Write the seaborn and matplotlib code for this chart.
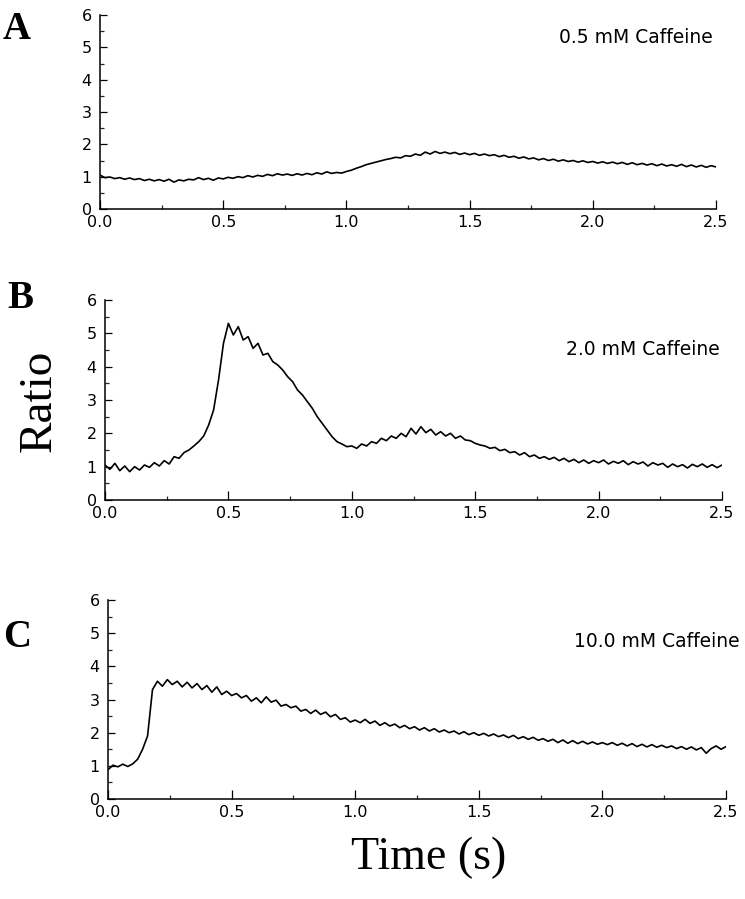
import numpy as np
import seaborn as sns
import matplotlib
matplotlib.use("Agg")
from matplotlib import pyplot as plt
from matplotlib.ticker import MultipleLocator, FormatStrFormatter

# sample times (s), one reading every 20 ms
time_s = np.linspace(0.0, 2.5, 126)

# fluorescence ratio traces
ratio_05mM = [
    1.05, 0.97, 0.99, 0.94, 0.97, 0.92, 0.96, 0.91, 0.94, 0.88,
    0.92, 0.87, 0.91, 0.86, 0.92, 0.83, 0.90, 0.87, 0.92, 0.90,
    0.97, 0.91, 0.95, 0.89, 0.96, 0.93, 0.98, 0.95, 1.00, 0.97,
    1.03, 0.99, 1.04, 1.01, 1.07, 1.03, 1.09, 1.05, 1.08, 1.04,
    1.09, 1.05, 1.10, 1.06, 1.12, 1.08, 1.15, 1.10, 1.13, 1.11,
    1.16, 1.20, 1.26, 1.31, 1.37, 1.41, 1.45, 1.49, 1.53, 1.56,
    1.60, 1.58, 1.65, 1.63, 1.70, 1.66, 1.76, 1.70, 1.78, 1.72,
    1.76, 1.71, 1.75, 1.69, 1.73, 1.68, 1.72, 1.66, 1.70, 1.65,
    1.68, 1.62, 1.66, 1.60, 1.63, 1.57, 1.61, 1.55, 1.58, 1.52,
    1.56, 1.50, 1.54, 1.48, 1.52, 1.47, 1.50, 1.45, 1.49, 1.44,
    1.47, 1.42, 1.46, 1.41, 1.45, 1.40, 1.44, 1.38, 1.43, 1.37,
    1.41, 1.36, 1.40, 1.34, 1.39, 1.33, 1.37, 1.32, 1.38, 1.31,
    1.36, 1.30, 1.35, 1.29, 1.34, 1.30,
]

ratio_20mM = [
    1.05, 0.92, 1.10, 0.88, 1.02, 0.85, 1.00, 0.90, 1.05, 0.98,
    1.12, 1.02, 1.18, 1.08, 1.30, 1.25, 1.42, 1.50, 1.62, 1.75,
    1.92, 2.25, 2.70, 3.60, 4.70, 5.30, 4.95, 5.20, 4.80, 4.90,
    4.55, 4.70, 4.35, 4.40, 4.15, 4.05, 3.90, 3.70, 3.55, 3.30,
    3.15, 2.95, 2.75, 2.50, 2.30, 2.10, 1.90, 1.75, 1.68, 1.60,
    1.62, 1.55, 1.68, 1.62, 1.75, 1.70, 1.85, 1.78, 1.92, 1.85,
    2.00, 1.90, 2.15, 1.98, 2.20, 2.02, 2.12, 1.95, 2.05, 1.92,
    2.00, 1.85, 1.92, 1.80, 1.78, 1.70, 1.65, 1.62, 1.55, 1.58,
    1.48, 1.52, 1.42, 1.45, 1.35, 1.42, 1.30, 1.35, 1.25, 1.30,
    1.22, 1.28, 1.18, 1.25, 1.15, 1.22, 1.12, 1.20, 1.10, 1.18,
    1.12, 1.20, 1.08, 1.16, 1.10, 1.18, 1.06, 1.15, 1.08, 1.14,
    1.02, 1.12, 1.05, 1.10, 0.98, 1.08, 1.00, 1.06, 0.96, 1.07,
    1.00, 1.08, 0.98, 1.06, 0.97, 1.05,
]

ratio_100mM = [
    0.88, 1.02, 0.97, 1.05, 0.98, 1.06, 1.20, 1.50, 1.90, 3.30,
    3.55, 3.40, 3.60, 3.45, 3.55, 3.38, 3.52, 3.35, 3.48, 3.30,
    3.42, 3.22, 3.38, 3.15, 3.25, 3.12, 3.18, 3.05, 3.12, 2.95,
    3.05, 2.90, 3.08, 2.92, 2.98, 2.80, 2.85, 2.75, 2.80, 2.65,
    2.70, 2.58, 2.68, 2.55, 2.62, 2.48, 2.55, 2.40, 2.45, 2.32,
    2.38, 2.30, 2.40, 2.28, 2.35, 2.22, 2.30, 2.20, 2.26, 2.15,
    2.22, 2.12, 2.18, 2.08, 2.15, 2.05, 2.12, 2.02, 2.08, 2.00,
    2.05, 1.96, 2.03, 1.94, 2.00, 1.92, 1.98, 1.90, 1.96, 1.88,
    1.93, 1.85, 1.92, 1.82, 1.88, 1.80, 1.86, 1.77, 1.82, 1.74,
    1.80, 1.70, 1.78, 1.68, 1.76, 1.67, 1.74, 1.66, 1.72, 1.65,
    1.70, 1.64, 1.70, 1.62, 1.68, 1.60, 1.67, 1.58, 1.65, 1.57,
    1.64, 1.56, 1.62, 1.55, 1.60, 1.52, 1.58, 1.50, 1.57, 1.48,
    1.55, 1.38, 1.52, 1.60, 1.50, 1.58,
]

traces = [ratio_05mM, ratio_20mM, ratio_100mM]
panel_letters = ["A", "B", "C"]
conditions = ["0.5 mM Caffeine", "2.0 mM Caffeine", "10.0 mM Caffeine"]

sns.set_style("ticks")
plt.rcParams["font.family"] = ["DejaVu Sans"]
plt.rcParams["text.color"] = "black"

W, H = 745, 899
fig = plt.figure(figsize=(W / 100, H / 100), dpi=100)

# axes boxes in pixels: left, right, top, bottom
boxes = [(100, 716, 15, 209), (105, 722, 300, 500), (108, 726, 600, 799)]
# caffeine text: right edge (s) and baseline (ratio)
cond_pos = [(2.488, 5.14), (2.49, 4.35), (2.557, 4.58)]
letter_pos = [(3, 39), (7, 308), (3, 647)]

for i, (l, r, t, b) in enumerate(boxes):
    ax = fig.add_axes([l / W, 1 - b / H, (r - l) / W, (b - t) / H])
    sns.lineplot(x=time_s, y=traces[i], ax=ax, color="black", linewidth=1.2)
    ax.set_xlim(0, 2.5)
    ax.set_ylim(0, 6)
    ax.set_xlabel("")
    ax.set_ylabel("")
    sns.despine(ax=ax)
    for side in ["left", "bottom"]:
        ax.spines[side].set_linewidth(1.1)
        ax.spines[side].set_color("black")
    ax.xaxis.set_major_locator(MultipleLocator(0.5))
    ax.xaxis.set_minor_locator(MultipleLocator(0.25))
    ax.xaxis.set_major_formatter(FormatStrFormatter("%.1f"))
    ax.yaxis.set_major_locator(MultipleLocator(1))
    ax.yaxis.set_minor_locator(MultipleLocator(0.5))
    ax.tick_params(axis="x", which="major", direction="in", length=6.5, width=0.9,
                   labelsize=11.5, pad=4, colors="black")
    ax.tick_params(axis="x", which="minor", direction="in", length=3, width=0.9)
    ax.tick_params(axis="y", which="major", direction="in", length=5, width=0.9,
                   labelsize=11.5, pad=6, colors="black")
    ax.tick_params(axis="y", which="minor", direction="in", length=3, width=0.9)
    cx, cy = cond_pos[i]
    ax.text(cx, cy, conditions[i], ha="right", va="baseline", fontsize=13.5,
            color="black", clip_on=False)
    lx, ly = letter_pos[i]
    fig.text(lx / W, 1 - ly / H, panel_letters[i], ha="left", va="baseline",
             fontsize=28, fontweight="bold", family="Liberation Serif", color="black")

fig.text(39 / W, 1 - 401 / H, "Ratio", rotation=90, ha="center", va="center",
         fontsize=34, family="Liberation Serif", color="black")
fig.text(429 / W, 1 - 858 / H, "Time (s)", ha="center", va="center",
         fontsize=33, family="Liberation Serif", color="black")

plt.savefig("out.png", dpi=100)
